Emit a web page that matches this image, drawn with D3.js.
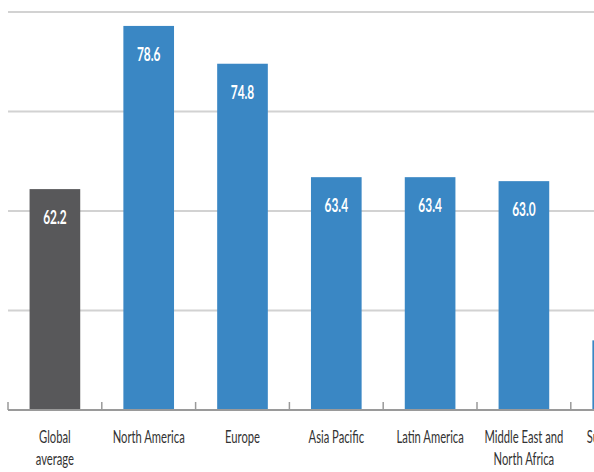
<!DOCTYPE html>
<html>
<head>
<meta charset="utf-8">
<script src="https://cdn.jsdelivr.net/npm/d3@7"></script>
<style>
  body { margin: 0; background: #fff; }
  svg { display: block; }
</style>
</head>
<body>
<div id="chart"></div>
<script>
const categories = ["Global average", "North America", "Europe", "Asia Pacific", "Latin America", "Middle East and North Africa", "Sub-Saharan Africa"];
const labelLines = [["Global", "average"], ["North America"], ["Europe"], ["Asia Pacific"], ["Latin America"], ["Middle East and", "North Africa"], ["Sub-Saharan", "Africa"]];
const values = [62.2, 78.6, 74.8, 63.4, 63.4, 63.0, 47.0];
const gridTicks = [50, 60, 70, 80];

const width = 594;
const height = 472;
const squeeze = 0.66;
const padIn = 0.46;

const x = d3.scaleBand()
  .domain(categories)
  .range([8, 8 + 93.8 * categories.length])
  .paddingInner(padIn)
  .paddingOuter(padIn / 2);

const y = d3.scaleLinear().domain([40, 80]).range([410, 12]);

const svg = d3.select("#chart")
  .append("svg")
  .attr("width", width)
  .attr("height", height);

// gridlines
svg.append("g")
  .selectAll("line")
  .data(gridTicks)
  .join("line")
  .attr("x1", 8)
  .attr("x2", width)
  .attr("y1", (d) => y(d))
  .attr("y2", (d) => y(d))
  .attr("stroke", "#d2d2d2")
  .attr("stroke-width", 2);

// bars
svg.append("g")
  .selectAll("rect")
  .data(values)
  .join("rect")
  .attr("x", (d, i) => x(categories[i]))
  .attr("y", (d) => y(d))
  .attr("width", x.bandwidth())
  .attr("height", (d) => y(40) - y(d))
  .attr("fill", (d, i) => (i === 0 ? "#58585a" : "#3a87c4"));

// value labels
svg.append("g")
  .selectAll("text")
  .data(values.slice(0, 6))
  .join("text")
  .attr("transform", (d, i) =>
    `translate(${x(categories[i]) + x.bandwidth() / 2},${y(d) + 35}) scale(${squeeze},1)`)
  .attr("text-anchor", "middle")
  .attr("font-family", "Lato, sans-serif")
  .attr("font-weight", "bold")
  .attr("font-size", "18px")
  .attr("fill", "#fff")
  .text((d) => d.toFixed(1));

// baseline axis with upward ticks at band edges
const edges = categories.map((c) => x(c) - x.step() * padIn / 2);
svg.append("line")
  .attr("x1", 8)
  .attr("x2", width)
  .attr("y1", y(40))
  .attr("y2", y(40))
  .attr("stroke", "#9a9a9a")
  .attr("stroke-width", 2);

svg.append("g")
  .selectAll("line")
  .data(edges)
  .join("line")
  .attr("x1", (d) => d)
  .attr("x2", (d) => d)
  .attr("y1", y(40))
  .attr("y2", y(40) - 8)
  .attr("stroke", "#9a9a9a")
  .attr("stroke-width", 1.5);

// category labels
const labels = svg.append("g")
  .selectAll("g")
  .data(labelLines)
  .join("g")
  .attr("transform", (d, i) =>
    `translate(${x(categories[i]) + x.bandwidth() / 2},443) scale(${squeeze},1)`);

labels.selectAll("text")
  .data((d) => d)
  .join("text")
  .attr("y", (d, j) => j * 22)
  .attr("text-anchor", "middle")
  .attr("font-family", "Lato, sans-serif")
  .attr("font-size", "17px")
  .attr("fill", "#333")
  .text((d) => d);
</script>
</body>
</html>
